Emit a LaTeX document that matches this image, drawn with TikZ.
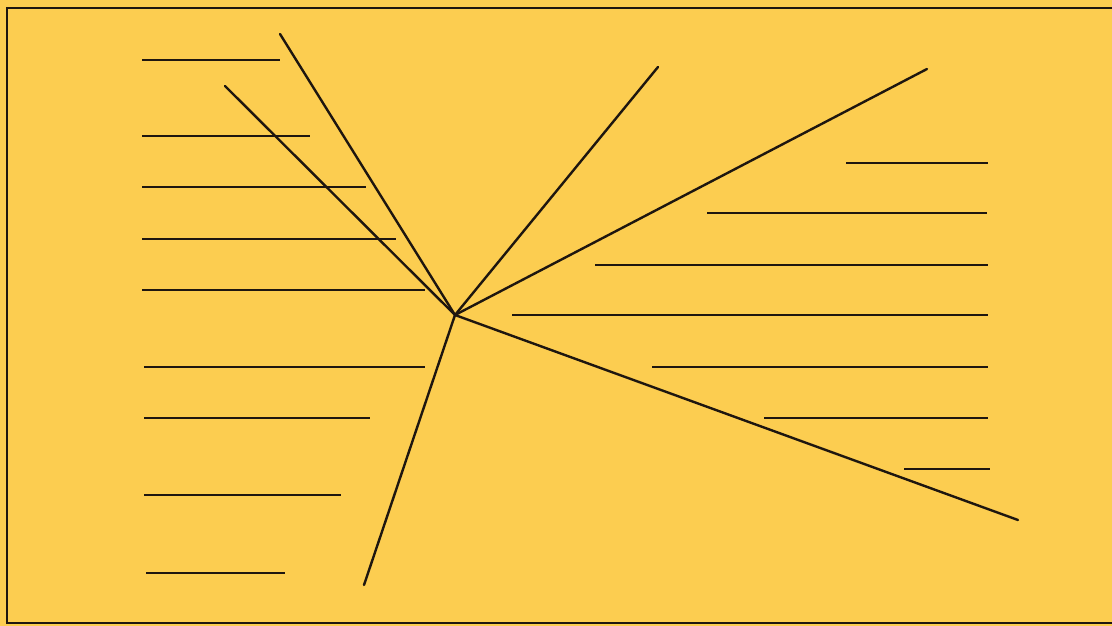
\documentclass[tikz,border=0pt]{standalone}
\definecolor{paper}{RGB}{252,205,80}
\definecolor{ink}{RGB}{30,22,15}
\begin{document}
\begin{tikzpicture}[x=1pt,y=-1pt,
  ray/.style={draw=ink,line width=2.4pt,line cap=round},
  blank/.style={draw=ink,line width=2.2pt},
  frame/.style={draw=ink,line width=1.6pt}]
\fill[paper] (0,0) rectangle (1112,626);
\useasboundingbox (0,0) rectangle (1112,626);
\draw[frame] (1112,8) -- (7,8) -- (7,623) -- (1112,623);
\coordinate (c) at (455,315);
\coordinate (r1) at (280,34);
\coordinate (r2) at (225,86);
\coordinate (r3) at (658,67);
\coordinate (r4) at (927,69);
\coordinate (r5) at (1018,520);
\coordinate (r6) at (364,585);
\foreach \n in {r1,r2,r3,r4,r5,r6}{
  \draw[ray] (c) -- (\n);
}
\foreach \a/\b/\y in {142/280/60,142/310/136,142/366/187,142/396/239,142/425/290,144/425/367,144/370/418,144/341/495,146/285/573,
  846/988/163,707/987/213,595/988/265,512/988/315,652/988/367,764/988/418,904/990/469}{
  \coordinate (a) at (\a,\y);
  \coordinate (b) at (\b,\y);
  \draw[blank] (a) -- (b);
}
\end{tikzpicture}
\end{document}
